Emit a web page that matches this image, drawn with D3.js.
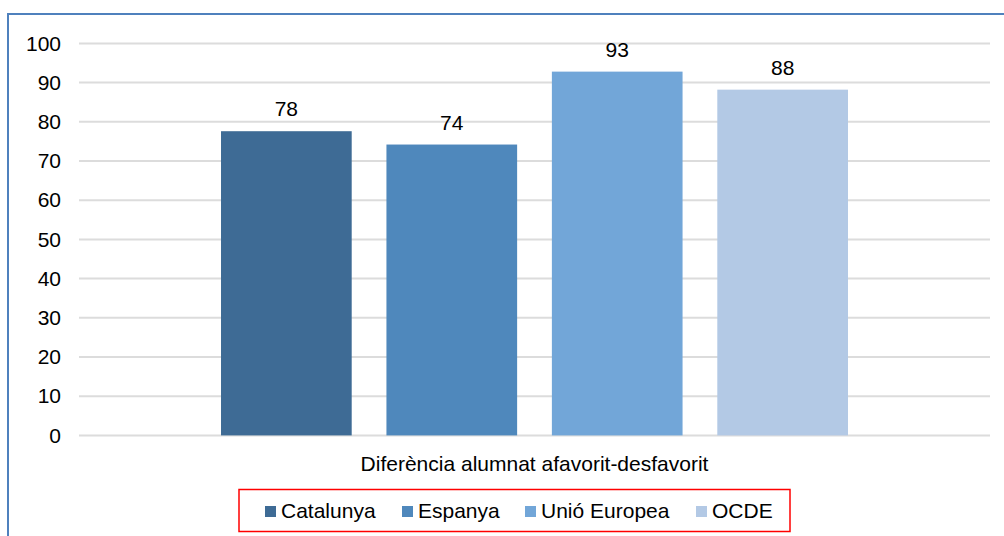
<!DOCTYPE html>
<html><head><meta charset="utf-8">
<script src="https://cdn.jsdelivr.net/npm/d3@7"></script>
<style>body{margin:0;background:#fff}svg{display:block;font-family:"Liberation Sans",Arial,sans-serif}</style>
</head><body><svg id="c" width="1004" height="536"></svg>
<script>
const categories = ["Diferència alumnat afavorit-desfavorit"];
const seriesNames = ["Catalunya", "Espanya", "Unió Europea", "OCDE"];
const seriesValues = [77.6, 74.2, 92.8, 88.2];
const seriesColors = ["#3E6B95", "#4F88BC", "#72A6D8", "#B3C9E5"];
const yTicks = [0, 10, 20, 30, 40, 50, 60, 70, 80, 90, 100];

const FS = 21;
const svg = d3.select("#c");
svg.append("rect").attr("x", 8).attr("y", 14).attr("width", 1020).attr("height", 560)
  .attr("fill", "#fff").attr("stroke", "#4F81BD").attr("stroke-width", 2);

const pLeft = 79, pRight = 990, pTop = 43.4, pBottom = 435.4;
const y = d3.scaleLinear().domain([0, 100]).range([pBottom, pTop]);
const x0 = d3.scaleBand().domain(categories).range([pLeft, pRight]).paddingInner(0).paddingOuter(0.2265);
const x1 = d3.scaleBand().domain(seriesNames).range([0, x0.bandwidth()]).paddingInner(0.21).paddingOuter(0);

// grid
svg.append("g").selectAll("line").data(yTicks).join("line")
  .attr("x1", pLeft).attr("x2", pRight).attr("y1", d => y(d)).attr("y2", d => y(d))
  .attr("stroke", "#dcdcdc").attr("stroke-width", 2);

// y axis labels
const yAxis = d3.axisLeft(y).tickValues(yTicks).tickSize(0).tickPadding(0);
const ga = svg.append("g").attr("transform", `translate(61,0)`).call(yAxis);
ga.select(".domain").remove();
ga.selectAll("text").attr("font-size", FS).attr("fill", "#000").attr("font-family", "Liberation Sans, Arial, sans-serif");

// bars
const data = seriesNames.map((s, i) => ({ s, v: seriesValues[i], c: seriesColors[i] }));
const g = svg.append("g").attr("transform", `translate(${x0(categories[0])},0)`);
g.selectAll("rect").data(data).join("rect")
  .attr("x", d => x1(d.s)).attr("width", x1.bandwidth())
  .attr("y", d => y(d.v)).attr("height", d => y(0) - y(d.v))
  .attr("fill", d => d.c);
g.selectAll("text").data(data).join("text")
  .attr("x", d => x1(d.s) + x1.bandwidth() / 2).attr("y", d => y(d.v) - 15)
  .attr("text-anchor", "middle").attr("font-size", FS).attr("fill", "#000")
  .text(d => d3.format(".0f")(d.v));

// x axis category label
const xAxis = d3.axisBottom(x0).tickSize(0).tickPadding(0);
const gx = svg.append("g").attr("transform", `translate(0,${pBottom + 21})`).call(xAxis);
gx.select(".domain").remove();
gx.selectAll("text").attr("font-size", FS).attr("fill", "#000").attr("font-family", "Liberation Sans, Arial, sans-serif");

// legend
svg.append("rect").attr("x", 239).attr("y", 489.5).attr("width", 551).attr("height", 42)
  .attr("fill", "none").attr("stroke", "#FF0000").attr("stroke-width", 1.5);
const legX = [265, 402, 525, 696];
const lg = svg.append("g").selectAll("g").data(data).join("g")
  .attr("transform", (d, i) => `translate(${legX[i]},506)`);
lg.append("rect").attr("width", 11).attr("height", 11).attr("fill", d => d.c);
lg.append("text").attr("x", 16).attr("y", 12).attr("font-size", FS).attr("fill", "#000").text(d => d.s);
</script></body></html>
